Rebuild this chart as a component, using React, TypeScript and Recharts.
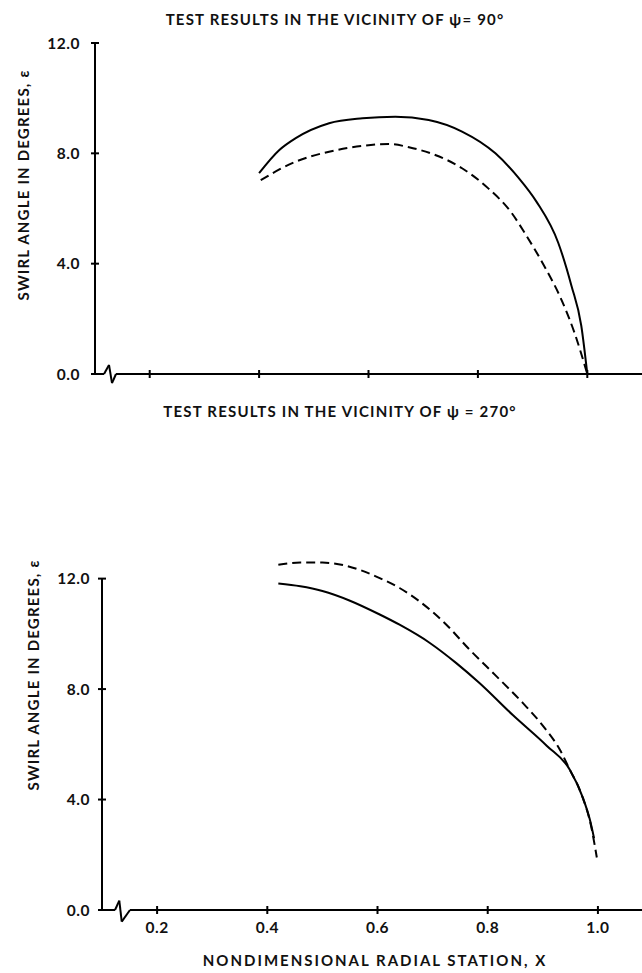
import React from 'react'
import { LineChart, Line, XAxis, YAxis, ReferenceLine } from 'recharts'

const xTicks = [0.2, 0.4, 0.6, 0.8, 1.0]
const yTicks = [0, 4, 8, 12]

// psi = 90 deg
const topSolidX = [0.4, 0.437, 0.467, 0.528, 0.589, 0.649, 0.71, 0.771, 0.832, 0.874, 0.907, 0.947, 0.971, 0.989, 1.0]
const topSolidY = [7.28, 8.12, 8.55, 9.09, 9.27, 9.33, 9.21, 8.79, 8.0, 7.12, 6.25, 4.75, 3.2, 1.75, 0]
const topDashX = [0.403, 0.467, 0.528, 0.589, 0.637, 0.674, 0.722, 0.771, 0.819, 0.862, 0.886, 0.922, 0.953, 0.977, 1.0]
const topDashY = [7.03, 7.7, 8.06, 8.27, 8.34, 8.22, 7.94, 7.46, 6.73, 5.83, 5.1, 3.89, 2.68, 1.47, 0]

// psi = 270 deg
const botSolidX = [0.42, 0.46, 0.5, 0.55, 0.604, 0.64, 0.695, 0.743, 0.785, 0.846, 0.907, 0.949, 0.973, 0.985, 0.993]
const botSolidY = [11.82, 11.72, 11.55, 11.2, 10.7, 10.33, 9.67, 8.94, 8.22, 7.05, 5.95, 5.08, 4.05, 3.3, 2.6]
const botDashX = [0.42, 0.46, 0.5, 0.54, 0.57, 0.604, 0.64, 0.676, 0.725, 0.767, 0.816, 0.864, 0.901, 0.931, 0.949, 0.97, 0.988, 0.998]
const botDashY = [12.5, 12.58, 12.58, 12.48, 12.3, 12.02, 11.66, 11.18, 10.33, 9.43, 8.46, 7.49, 6.65, 5.8, 5.08, 4.2, 3.0, 1.9]

const pts = (xs: number[], ys: number[]) => xs.map((x, i) => ({ x, y: ys[i] }))

const FONT = 'Lato, "DejaVu Sans", sans-serif'

function YTick({ x, y, payload, gap }: any) {
  return (
    <g>
      <line x1={x - 4} x2={x + 4} y1={y} y2={y} stroke="#000" strokeWidth={2} />
      <text x={x - gap} y={y} dy="0.36em" textAnchor="end" fontFamily={FONT} fontWeight={700} fontSize={15.5} letterSpacing={0.5} fill="#111">
        {Number(payload.value).toFixed(1)}
      </text>
    </g>
  )
}

function XTick({ x, y, payload, showLabel }: any) {
  return (
    <g>
      <line x1={x} x2={x} y1={y - 4} y2={y + 4} stroke="#000" strokeWidth={2} />
      {showLabel && (
        <text x={x} y={y + 17} dy="0.36em" textAnchor="middle" fontFamily={FONT} fontWeight={700} fontSize={15.5} letterSpacing={0.5} fill="#111">
          {Number(payload.value).toFixed(1)}
        </text>
      )}
    </g>
  )
}

// broken x axis: straight run, zigzag, then on to the right edge
function axisSegments(xs: number[], ys: number[]) {
  return xs.slice(1).map((x, i) => (
    <ReferenceLine
      key={i}
      segment={[{ x: xs[i], y: ys[i] }, { x, y: ys[i + 1] }]}
      stroke="#000"
      strokeWidth={2}
      ifOverflow="visible"
    />
  ))
}

function Panel({ top, height, marginTop, axisW, axisH, xMax, yMax, brkX, brkY, solid, dash, labels }: any) {
  return (
    <div style={{ position: 'absolute', left: 0, top }}>
      <LineChart width={642} height={height} margin={{ top: marginTop, right: 0, bottom: 0, left: 0 }}>
        <XAxis
          type="number"
          dataKey="x"
          domain={[0.1, xMax]}
          ticks={xTicks}
          allowDataOverflow
          axisLine={false}
          tickLine={false}
          tickSize={0}
          tickMargin={0}
          height={axisH}
          tick={(p: any) => <XTick {...p} showLabel={labels} />}
        />
        <YAxis
          type="number"
          domain={[0, yMax]}
          ticks={yTicks}
          allowDataOverflow
          axisLine={false}
          tickLine={false}
          tickSize={0}
          tickMargin={0}
          width={axisW}
          tick={(p: any) => <YTick {...p} gap={labels ? 12 : 15} />}
        />
        <ReferenceLine segment={[{ x: 0.1, y: 0 }, { x: 0.1, y: 12 }]} stroke="#000" strokeWidth={2} ifOverflow="visible" />
        {axisSegments(brkX, brkY)}
        <Line data={solid} dataKey="y" type="monotone" stroke="#000" strokeWidth={2} dot={false} isAnimationActive={false} />
        <Line data={dash} dataKey="y" type="monotone" stroke="#000" strokeWidth={2} strokeDasharray="9 5" dot={false} isAnimationActive={false} />
      </LineChart>
    </div>
  )
}

const textStyle: React.CSSProperties = {
  position: 'absolute',
  fontFamily: FONT,
  fontWeight: 700,
  fontSize: 15,
  letterSpacing: 1.2,
  color: '#111',
  whiteSpace: 'nowrap',
  transform: 'translate(-50%, -50%)',
}

export default function App() {
  return (
    <div style={{ position: 'absolute', left: 0, top: 0, width: 642, height: 973, background: '#fff', overflow: 'hidden' }}>
      <div style={{ ...textStyle, left: 335, top: 19 }}>TEST RESULTS IN THE VICINITY OF ψ= 90°</div>
      <div style={{ ...textStyle, left: 340, top: 411 }}>TEST RESULTS IN THE VICINITY OF ψ = 270°</div>
      <div style={{ ...textStyle, left: 23, top: 185, transform: 'translate(-50%, -50%) rotate(-90deg)' }}>SWIRL ANGLE IN DEGREES, ε</div>
      <div style={{ ...textStyle, left: 33, top: 675, transform: 'translate(-50%, -50%) rotate(-90deg)' }}>SWIRL ANGLE IN DEGREES, ε</div>
      <div style={{ ...textStyle, left: 375, top: 960, letterSpacing: 2 }}>NONDIMENSIONAL RADIAL STATION, X</div>
      <Panel
        top={0}
        height={400}
        marginTop={43}
        axisW={95}
        axisH={26}
        xMax={1.1}
        yMax={12}
        brkX={[0.1, 0.1165, 0.1256, 0.1311, 0.1384, 1.1]}
        brkY={[0, 0, 0.33, -0.33, 0, 0]}
        solid={pts(topSolidX, topSolidY)}
        dash={pts(topDashX, topDashY)}
        labels={false}
      />
      <Panel
        top={400}
        height={573}
        marginTop={151}
        axisW={102}
        axisH={63}
        xMax={1.08}
        yMax={13}
        brkX={[0.1, 0.1236, 0.1314, 0.1358, 0.1508, 1.08]}
        brkY={[0, 0, 0.34, -0.42, 0, 0]}
        solid={pts(botSolidX, botSolidY)}
        dash={pts(botDashX, botDashY)}
        labels={true}
      />
    </div>
  )
}
